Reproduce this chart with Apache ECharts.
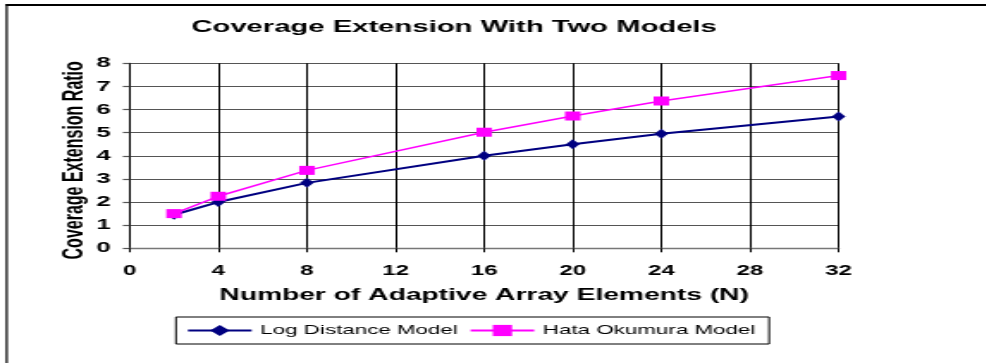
<!DOCTYPE html>
<html>
<head>
<meta charset="utf-8">
<script src="https://cdn.jsdelivr.net/npm/echarts@6/dist/echarts.min.js"></script>
<style>
  html, body { margin: 0; padding: 0; background: #fff; overflow: hidden; }
  #chart { position: absolute; left: 0; top: 0; height: 363px; transform-origin: 0 0; }
</style>
</head>
<body>
<div id="chart"></div>
<script>
// Coverage extension ratio versus number of adaptive array elements
const elementCounts = [2, 4, 8, 16, 20, 24, 32];
const logDistance = [1.45, 2.0, 2.83, 4.0, 4.5, 4.95, 5.7];
const hataOkumura = [1.5, 2.25, 3.37, 5.02, 5.72, 6.37, 7.47];
const seriesNames = ['Log Distance Model', 'Hata Okumura Model'];
const xTicks = { min: 0, max: 32, interval: 4 };
const yTicks = { min: 0, max: 8, interval: 1 };

// The figure is laid out on a narrow canvas and widened horizontally.
const STRETCH = 1.72;
const FULL_W = 986;
const baseW = FULL_W / STRETCH;

const el = document.getElementById('chart');
el.style.width = baseW + 'px';
el.style.transform = 'scaleX(' + STRETCH + ')';

const font = 'Liberation Sans, Arial, sans-serif';
const pairs = (xs, ys) => xs.map((x, i) => [x, ys[i]]);

const chart = echarts.init(el, null, { renderer: 'canvas' });
chart.setOption({
  animation: false,
  backgroundColor: '#fff',
  title: {
    text: 'Coverage Extension With Two Models',
    left: 264, top: 19, textAlign: 'center', padding: 0,
    textStyle: { fontFamily: font, fontWeight: 'bold', fontSize: 17, color: '#000' }
  },
  grid: { left: 75.4, right: baseW - 487.8, top: 63.3, bottom: 363 - 248.3, containLabel: false },
  xAxis: {
    type: 'value', min: xTicks.min, max: xTicks.max, interval: xTicks.interval,
    name: 'Number of Adaptive Array Elements (N)',
    nameLocation: 'middle', nameGap: 39, nameMoveOverlap: false,
    nameTextStyle: { fontFamily: font, fontWeight: 'bold', fontSize: 16.4, color: '#000' },
    axisLine: { show: true, lineStyle: { color: '#777', width: 1.4 } },
    axisTick: { show: true, length: 4, lineStyle: { color: '#000', width: 1 } },
    axisLabel: { margin: 16, fontFamily: font, fontWeight: 'bold', fontSize: 14, color: '#000' },
    splitLine: { show: true, lineStyle: { color: '#000', width: 1 } }
  },
  yAxis: {
    type: 'value', min: yTicks.min, max: yTicks.max, interval: yTicks.interval,
    name: 'Coverage Extension Ratio',
    nameLocation: 'middle', nameGap: 24, nameMoveOverlap: false,
    nameTextStyle: { fontFamily: font, fontWeight: 'bold', fontSize: 16, color: '#000', padding: [0, 9, 0, 0] },
    axisLine: { show: true, lineStyle: { color: '#000', width: 1 } },
    axisTick: { show: true, length: 4, lineStyle: { color: '#555', width: 1.2 } },
    axisLabel: { margin: 11, fontFamily: font, fontWeight: 'bold', fontSize: 15, color: '#000' },
    splitLine: { show: true, lineStyle: { color: '#555', width: 1.2 } }
  },
  legend: {
    data: seriesNames,
    left: 102.3, top: 317,
    orient: 'horizontal',
    padding: [7, 8, 7, 6],
    itemGap: 6.4, itemWidth: 37, itemHeight: 14,
    borderColor: '#000', borderWidth: 1,
    textStyle: { fontFamily: font, fontSize: 13, color: '#000' }
  },
  graphic: [
    { type: 'line', shape: { x1: 3.9, y1: 4, x2: 3.9, y2: 363 }, style: { stroke: '#000', lineWidth: 1.2 }, silent: true },
    { type: 'line', shape: { x1: 3.3, y1: 5, x2: baseW, y2: 5 }, style: { stroke: '#000', lineWidth: 2 }, silent: true }
  ],
  series: [
    {
      name: seriesNames[0], type: 'line',
      data: pairs(elementCounts, logDistance),
      symbol: 'diamond', symbolSize: [8, 10],
      lineStyle: { color: '#000080', width: 2 },
      itemStyle: { color: '#000080' }
    },
    {
      name: seriesNames[1], type: 'line',
      data: pairs(elementCounts, hataOkumura),
      symbol: 'rect', symbolSize: [9, 9],
      lineStyle: { color: '#FF00FF', width: 1.5 },
      itemStyle: { color: '#FF00FF' }
    }
  ]
});
</script>
</body>
</html>
